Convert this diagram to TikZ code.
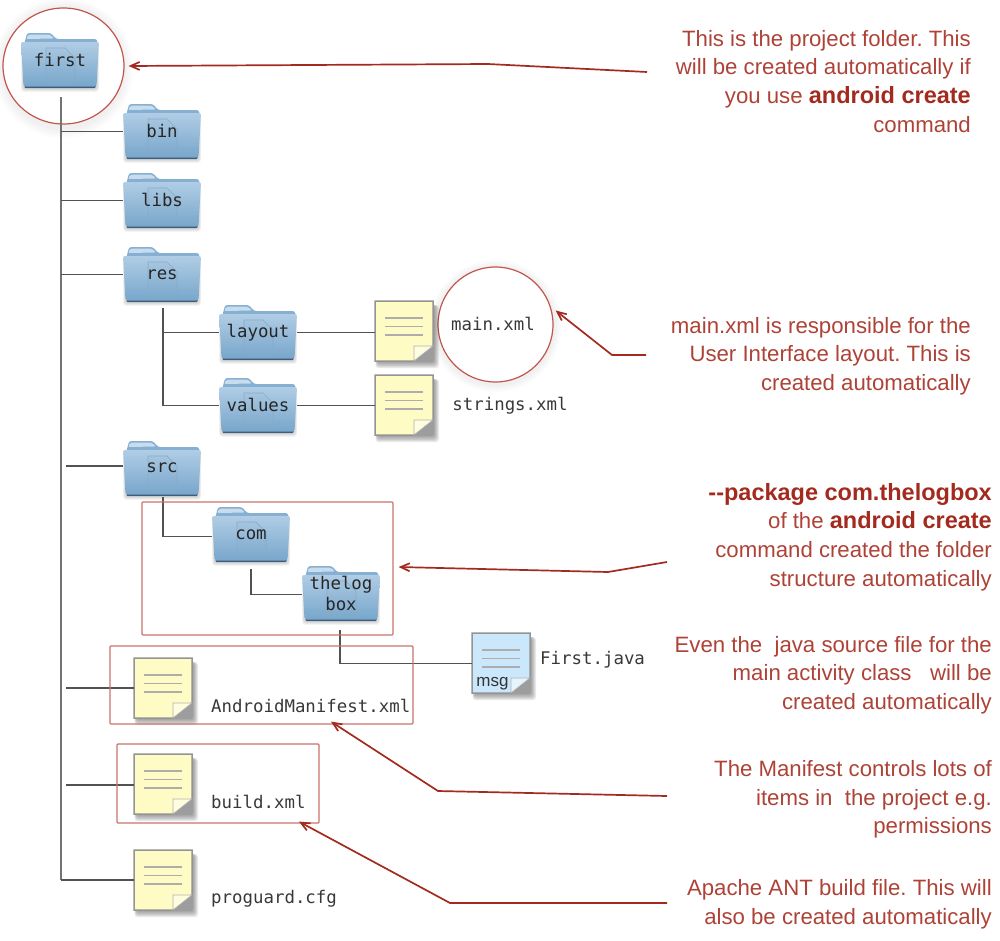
\documentclass[tikz,border=0pt]{standalone}
\usepackage{fontspec}
\setmainfont{Liberation Sans}
\newfontfamily\monof{DejaVu Sans Mono}
\usetikzlibrary{arrows.meta,shapes.geometric}
\definecolor{redc}{HTML}{A32A1E}
\definecolor{redt}{HTML}{AE4237}
\definecolor{redl}{HTML}{C0564C}
\definecolor{redb}{HTML}{C9736B}
\definecolor{foldt}{HTML}{B0CDE5}
\definecolor{foldb}{HTML}{78A6CB}
\definecolor{foldback}{HTML}{86B0D2}
\definecolor{folddark}{HTML}{3F5D78}
\definecolor{ghost}{HTML}{86ACCB}
\definecolor{noteY}{HTML}{FEFBC4}
\definecolor{noteB}{HTML}{CBE7FC}
\definecolor{foldY}{HTML}{FFFDE0}
\definecolor{foldB}{HTML}{E6F4FE}
\newcommand\bd[1]{{\fontsize{23.5}{28.7}\selectfont\bfseries\color{redc}#1}}
\tikzset{
  x=1pt,y=-1pt,
  conn/.style={draw=black!68,line width=1.8pt},
  trunk/.style={draw=black!55,line width=2.4pt},
  redline/.style={draw=redc,line width=1.7pt,-{Straight Barb[length=9pt,width=8pt]}},
  ringred/.style={draw=redl,line width=1.2pt},
  boxred/.style={draw=redb,line width=1.2pt,rounded corners=1pt},
  folderbox/.style={minimum width=78pt,minimum height=55pt,inner sep=0pt,align=center,
     font=\monof\fontsize{17.4}{22}\selectfont,text=black!85},
  notebox/.style={minimum width=58pt,minimum height=60pt,inner sep=0pt},
  filelabel/.style={inner sep=0pt,font=\monof\fontsize{17.4}{22}\selectfont,text=black!78},
  callout/.style={inner sep=0pt,align=right,text=redt,font=\fontsize{22.2}{28.7}\selectfont\frenchspacing},
}
% #1 name, #2 x, #3 y, #4 label
\newcommand\myfolder[4]{%
  \begin{scope}[shift={(#2,#3)}]
    \foreach \k in {1,...,4}{\fill[black,opacity=.04,rounded corners=3pt] (2-\k*.5,12) rectangle (76+\k*.5,56+\k*.7);}
    \fill[foldback,rounded corners=2.5pt] (3,12) -- (6,0) -- (30,0) -- (35,6) -- (76,6) -- (77,14) -- cycle;
    \fill[foldt!70!white,rounded corners=2pt] (7,1.5) -- (29,1.5) -- (33,5.5) -- (5,6) -- cycle;
    \fill[folddark,rounded corners=1pt] (3.5,50) -- (74.5,50) -- (74.5,55) -- (3.5,55) -- cycle;
    \shade[top color=foldt,bottom color=foldb,rounded corners=2pt] (0,9) -- (78,9) -- (75.5,53.5) -- (2.5,53.5) -- cycle;
    \draw[ghost,line width=.7pt,fill=ghost,fill opacity=.08] (25,15) -- (44,15) -- (54,25) -- (54,50) -- (25,50) -- cycle;
    \node[folderbox] (#1) at (39,27.5) {#4};
  \end{scope}}
% #1 name, #2 x, #3 y, #4 fill, #5 fold colour, #6 text
\newcommand\mynote[6]{%
  \begin{scope}[shift={(#2,#3)}]
    \foreach \k in {1,...,6}{\fill[black,opacity=.08,rounded corners=3pt] (3-\k*.4,4) rectangle (58+\k*1,60+\k*1.2);}
    \node[notebox] (#1) at (29,30) {};
    \filldraw[draw=black!42,line width=1.5pt,fill=#4] (0,0) -- (58,0) -- (58,45) -- (39,60) -- (0,60) -- cycle;
    \filldraw[draw=black!30,line width=.8pt,fill=#5] (58,45) -- (39,60) -- (39,45) -- cycle;
    \draw[black!32,line width=1.2pt] (10,17) -- (48,17) (10,25.5) -- (48,25.5) (10,34) -- (48,34);
    #6
  \end{scope}}
\begin{document}
\begin{tikzpicture}
\useasboundingbox (0,0) rectangle (1000,940);
% soft halos and circles
\foreach \r in {70,68,...,62}{\fill[black,opacity=.012] (63.5,68) circle[radius=\r];}
\foreach \r in {66,64.5,...,60}{\fill[black,opacity=.012] (495.5,326) circle[radius=\r];}
\node[ellipse,minimum width=121pt,minimum height=116pt,inner sep=0pt,ringred,fill=white] (ring1) at (63.5,66) {};
\node[circle,minimum size=115pt,inner sep=0pt,ringred,fill=white] (ring2) at (495.5,324.5) {};
% folders
\myfolder{first}{21}{33}{first}
\myfolder{bin}{123}{104}{bin}
\myfolder{libs}{123}{173}{\raisebox{2pt}{libs}}
\myfolder{res}{123}{247}{res}
\myfolder{layout}{219}{305}{layout}
\myfolder{values}{219}{378}{\raisebox{2pt}{values}}
\myfolder{src}{123}{441}{\raisebox{1pt}{src}}
\myfolder{com}{212}{507}{com}
\myfolder{thelog}{302}{566}{thelog\\[-1pt]box}
% notes
\mynote{mainx}{375}{301}{noteY}{foldY}{}
\mynote{strx}{375}{375}{noteY}{foldY}{}
\mynote{javax}{472}{633}{noteB}{foldB}{\node[inner sep=0pt,font=\fontsize{17}{18}\selectfont,text=black!80] (msg) at (20.5,51) {msg};}
\mynote{manif}{134}{658}{noteY}{foldY}{}
\mynote{buildx}{134}{754}{noteY}{foldY}{}
\mynote{prog}{134}{850}{noteY}{foldY}{}
% file labels
\node[filelabel] (l1) at (493,324) {main.xml};
\node[filelabel] (l2) at (510,406) {strings.xml};
\node[filelabel,anchor=west] (l3) at (540,660) {First.java};
\node[filelabel,anchor=west] (l4) at (211,706) {AndroidManifest.xml};
\node[filelabel,anchor=west] (l5) at (211,802) {build.xml};
\node[filelabel,anchor=west] (l6) at (211,899) {proguard.cfg};
% free ends
\coordinate (t0) at (61,97);
\coordinate (t1) at (61,880);
\coordinate (s1) at (66,466);
\coordinate (s2) at (66,688);
\coordinate (s3) at (66,785);
\coordinate (rb) at (163,308);
\coordinate (sb) at (163,497);
\coordinate (cb) at (251,569);
\coordinate (tb) at (340,630);
% tree
\draw[trunk] (t0) -- (t1);
\draw[conn] (t0 |- bin.west) -- (bin.west);
\draw[conn] (t0 |- libs.west) -- (libs.west);
\draw[conn] (t0 |- res.west) -- (res.west);
\draw[conn] (s1) -- (s1 -| src.west);
\draw[conn] (s2) -- (s2 -| manif.west);
\draw[conn] (s3) -- (s3 -| buildx.west);
\draw[conn] (t1) -- (t1 -| prog.west);
\draw[conn] (rb) |- (layout.west);
\draw[conn] (rb) |- (values.west);
\draw[conn] (layout.east) -- (layout.east -| mainx.west);
\draw[conn] (values.east) -- (values.east -| strx.west);
\draw[conn] (sb) |- ([yshift=-2pt]com.west);
\draw[conn] (cb) |- ([yshift=-1pt]thelog.west);
\draw[conn] (tb) |- ([yshift=-.5pt]javax.west);
% red boxes
\node[boxred,minimum width=251pt,minimum height=133pt,inner sep=0pt] (box1) at (267.5,568.5) {};
\node[boxred,minimum width=303pt,minimum height=78pt,inner sep=0pt] (box2) at (261.5,685) {};
\node[boxred,minimum width=202pt,minimum height=79pt,inner sep=0pt] (box3) at (218,783.5) {};
% callouts
\node[callout,anchor=north east] (c1) at (971,30) {This is the project folder. This\\will be created automatically if\\you use \bd{android create}\\command};
\node[callout,anchor=north east] (c2) at (971,317) {main.xml is responsible for the\\User Interface layout. This is\\created automatically};
\node[callout,anchor=north east] (c3) at (992,483) {\bd{-{}-package com.thelogbox}\\of the \bd{android create}\\command created the folder\\structure automatically};
\node[callout,anchor=north east] (c4) at (992,636) {Even the\ \ java source file for the\\main activity class\ \ \ will be\\created automatically};
\node[callout,anchor=north east] (c5) at (992,760) {The Manifest controls lots of\\items in\ \ the project e.g.\\permissions};
\node[callout,anchor=north east] (c6) at (992,879) {Apache ANT build file. This will\\also be created automatically};
% red connectors
\coordinate (a1) at (647,72); \coordinate (b1) at (488,64);
\coordinate (a2) at (646,355); \coordinate (b2) at (612,355);
\coordinate (a3) at (667,562); \coordinate (b3) at (608,572);
\coordinate (a4) at (667,796); \coordinate (b4) at (438,791);
\coordinate (a5) at (667,903); \coordinate (b5) at (450,903);
\draw[redline] (a1) -- (b1) -- ([xshift=4pt]ring1.east);
\draw[redline] (a2) -- (b2) -- ([xshift=2pt,yshift=14pt]ring2.east);
\draw[redline] (a3) -- (b3) -- ([xshift=5pt,yshift=1.5pt]box1.east);
\draw[redline] (a4) -- (b4) -- ([xshift=69.5pt,yshift=3pt]box2.south);
\draw[redline] (a5) -- (b5) -- ([xshift=81pt,yshift=2pt]box3.south);
\end{tikzpicture}
\end{document}
